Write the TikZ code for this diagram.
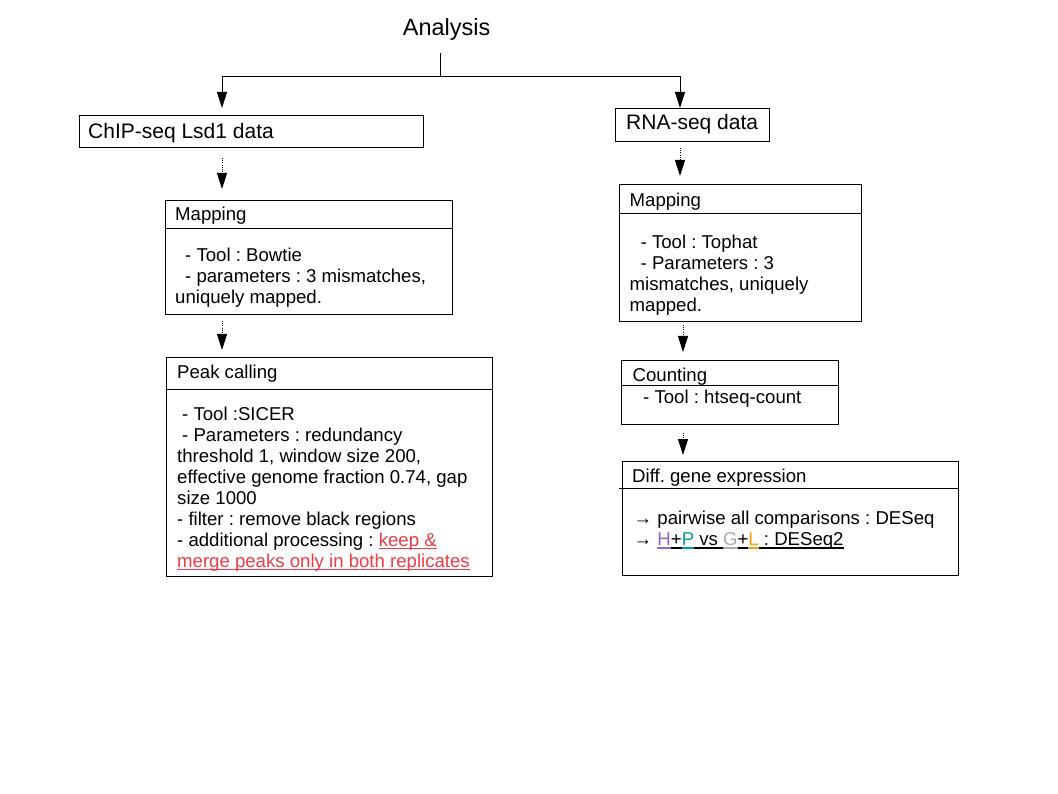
\documentclass[tikz,border=0pt]{standalone}
\usepackage{fontspec}
\setmainfont{Liberation Sans}
\usetikzlibrary{arrows.meta}

\definecolor{hlred}{RGB}{240,60,70}
\definecolor{hpurple}{RGB}{150,100,210}
\definecolor{pteal}{RGB}{0,160,160}
\definecolor{ggray}{RGB}{170,170,170}
\definecolor{lorange}{RGB}{250,160,20}

% coloured text with an underline of the same colour
\newcommand{\ulseg}[2]{\setbox0=\hbox{\color{#1}\relax#2}\rlap{\color{#1}\rule[-3pt]{\wd0}{1.4pt}}\box0}

\frenchspacing

\begin{document}
\begin{tikzpicture}[x=1pt,y=-1pt,
  box/.style={draw, line width=1pt, rectangle, inner sep=0pt, anchor=north west},
  body/.style={anchor=base west, inner sep=0pt, font=\fontsize{18.6}{21}\selectfont},
  head/.style={anchor=base west, inner sep=0pt, font=\fontsize{21}{24}\selectfont},
  divider/.style={line width=1pt},
  rule/.style={line width=1pt},
  flow/.style={line width=1pt, -{Triangle[length=16pt,width=10pt]}},
  dotflow/.style={line width=1pt, dash pattern=on 1pt off 1.2pt, -{Triangle[length=16pt,width=10pt]}},
]
\useasboundingbox[fill=white] (0,0) rectangle (1058,794);

% title
\node[anchor=base west, inner sep=0pt, font=\fontsize{23.5}{28}\selectfont] (title) at (402.7,35.7) {Analysis};

% boxes
\node[box, minimum width=344pt, minimum height=32pt]  (chip)  at (79,115) {};
\node[box, minimum width=154pt, minimum height=33pt]  (rna)   at (615,108) {};
\node[box, minimum width=287pt, minimum height=114pt] (map1)  at (165,200) {};
\node[box, minimum width=326pt, minimum height=219pt] (peak)  at (166,357) {};
\node[box, minimum width=242pt, minimum height=137pt] (map2)  at (619,184) {};
\node[box, minimum width=217pt, minimum height=64pt]  (count) at (621,360) {};
\node[box, minimum width=336pt, minimum height=114pt] (diff)  at (622,461) {};

% header dividers
\draw[divider] ([yshift=-29pt]map1.north west) -- ([yshift=-29pt]map1.north east);
\draw[divider] ([yshift=-32pt]peak.north west) -- ([yshift=-32pt]peak.north east);
\draw[divider] ([yshift=-30pt]map2.north west) -- ([yshift=-30pt]map2.north east);
\draw[divider] ([yshift=-26pt]count.north west) -- ([yshift=-26pt]count.north east);
\draw[divider] ([xshift=-3pt,yshift=-27pt]diff.north west) -- ([yshift=-27pt]diff.north east);

% connectors
\coordinate (split) at (440.5,77);
\coordinate (lx) at (222,0);
\coordinate (rx) at (680,0);
\coordinate (rx2) at (683,0);
\draw[rule, shorten <=12pt] (title.south -| split) -- (split);
\draw[flow, shorten >=7pt] (split) -| (chip.north -| lx);
\draw[flow] (split) -| (rna.north -| rx);
\draw[dotflow, shorten <=10pt, shorten >=11pt] (chip.south -| lx) -- (map1.north -| lx);
\draw[dotflow, shorten <=6pt, shorten >=7pt] (map1.south -| lx) -- (peak.north -| lx);
\draw[dotflow, shorten <=6pt, shorten >=8pt] (rna.south -| rx) -- (map2.north -| rx);
\draw[dotflow, shorten <=3pt, shorten >=8pt] (map2.south -| rx2) -- (count.north -| rx2);
\draw[dotflow, shorten <=8pt, shorten >=6pt] (count.south -| rx2) -- (diff.north -| rx2);

% texts
\node[head] (chipT) at (88,138.3) {ChIP-seq Lsd1 data};
\node[head] (rnaT)  at (626,130) {RNA-seq data};

\node[body] (map1h) at (175,221)   {Mapping};
\node[body] (map1a) at (185,261.7) {- Tool : Bowtie};
\node[body] (map1b) at (185,283)   {- parameters : 3 mismatches,};
\node[body] (map1c) at (175,304)   {uniquely mapped.};

\node[body] (peakh) at (177,379)   {Peak calling};
\node[body] (peaka) at (182,420.7) {- Tool :SICER};
\node[body] (peakb) at (182,441.7) {- Parameters : redundancy};
\node[body] (peakc) at (177,462.5) {threshold 1, window size 200,};
\node[body] (peakd) at (177,483.5) {effective genome fraction 0.74, gap};
\node[body] (peake) at (177,504.3) {size 1000};
\node[body] (peakf) at (177,525.2) {- filter : remove black regions};
\node[body] (peakg) at (177,546)   {- additional processing : \ulseg{hlred}{keep \&}};
\node[body] (peaki) at (177,567)   {\ulseg{hlred}{merge peaks only in both replicates}};

\node[body] (map2h) at (629.5,207)   {Mapping};
\node[body] (map2a) at (640.5,248.6) {- Tool : Tophat};
\node[body] (map2b) at (640.5,269.6) {- Parameters : 3};
\node[body] (map2c) at (629.5,290.7) {mismatches, uniquely};
\node[body] (map2d) at (629.5,311.7) {mapped.};

\node[body] (counth) at (632.5,381.7) {Counting};
\node[body] (counta) at (643,403.5)   {- Tool : htseq-count};

\node[body] (diffh) at (632,482.6) {Diff. gene expression};
\node[body] (diffa) at (633.5,524) {→ pairwise all comparisons : DESeq};
\node[body] (diffb) at (633.5,545.5) {→ \ulseg{hpurple}{H}\ulseg{black}{+}\ulseg{pteal}{P}\ulseg{black}{ vs }\ulseg{ggray}{G}\ulseg{black}{+}\ulseg{lorange}{L}\ulseg{black}{ : DESeq2}};
\end{tikzpicture}
\end{document}
